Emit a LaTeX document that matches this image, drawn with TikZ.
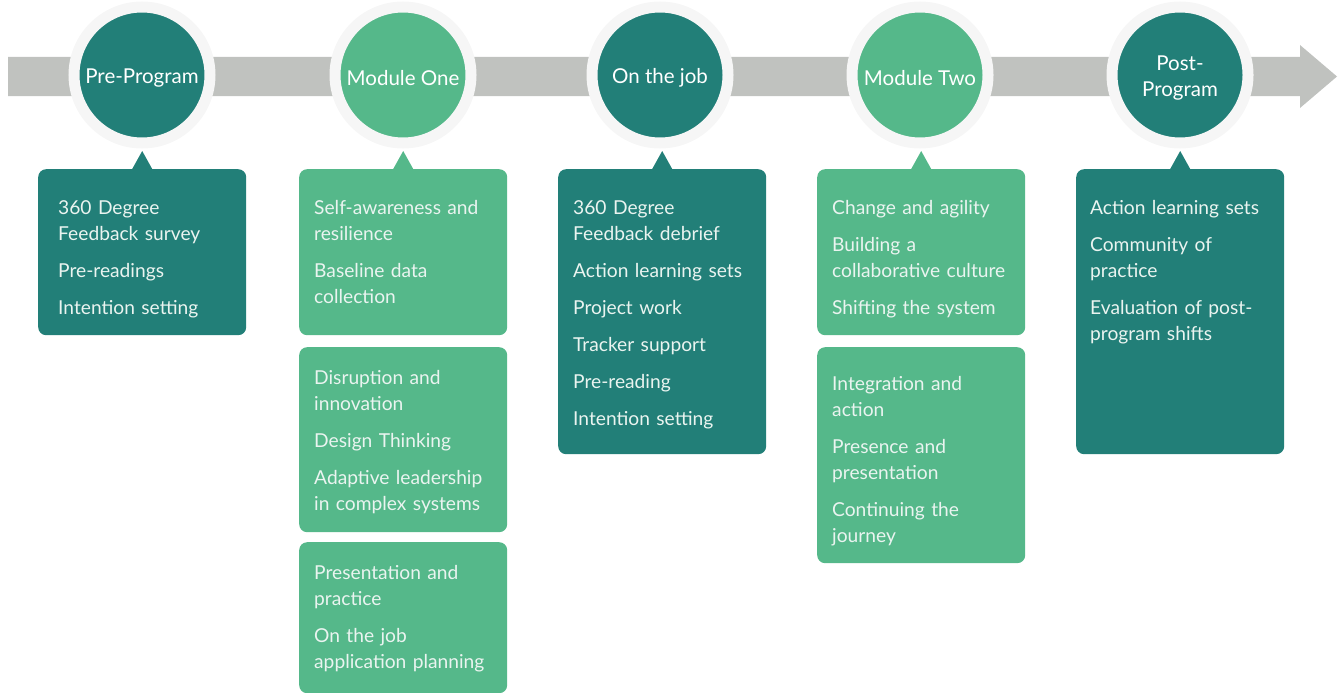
\documentclass[tikz,border=0pt]{standalone}
\usepackage{fontspec}
\setmainfont{Lato}
\usetikzlibrary{calc}
\definecolor{darkteal}{HTML}{227F78}
\definecolor{lightgreen}{HTML}{55B88A}
\definecolor{bandgray}{HTML}{C0C2BF}
\definecolor{ringgray}{HTML}{F6F6F6}
\definecolor{boxtext}{HTML}{EAF4F0}
\tikzset{
  stagecirc/.style={circle, minimum size=136pt, inner sep=0pt, draw=ringgray, line width=11pt},
  stagelabel/.style={text=white, font=\fontsize{20.5}{26}\selectfont, align=center, yshift=-3pt},
  panel/.style={rounded corners=8pt, minimum width=208pt, anchor=north west, inner sep=0pt},
  paneltext/.style={anchor=base west, inner sep=0pt, text width=205pt, align=left, text=boxtext, font=\fontsize{19.2}{26}\selectfont},
}
\newcommand{\pointer}[2]{\fill[#2] ($(#1.north)+(-10pt,0)$) -- ($(#1.north)+(0,18pt)$) -- ($(#1.north)+(10pt,0)$) -- cycle;}
\begin{document}
\begin{tikzpicture}[x=1pt,y=-1pt]
\useasboundingbox (0,0) rectangle (1338,693);
% timeline arrow
\fill[bandgray] (8,57) -- (1300,57) -- (1300,45) -- (1337,76.5) -- (1300,108) -- (1300,96) -- (8,96) -- cycle;
% stages
\node[stagecirc, fill=darkteal, label={[stagelabel]center:Pre-Program}] (s1) at (142,75) {};
\node[stagecirc, fill=lightgreen, label={[stagelabel]center:Module One}] (s2) at (403,75) {};
\node[stagecirc, fill=darkteal, label={[stagelabel]center:On the job}] (s3) at (660,75) {};
\node[stagecirc, fill=lightgreen, label={[stagelabel]center:Module Two}] (s4) at (920,75) {};
\node[stagecirc, fill=darkteal, label={[stagelabel]center:Post-\\Program}] (s5) at (1180,75) {};
% panels
\node[panel, fill=darkteal, minimum height=166pt] (b1) at (38,169) {};
\node[panel, fill=lightgreen, minimum height=166pt] (b2) at (299,169) {};
\node[panel, fill=lightgreen, minimum height=185pt] (b2b) at (299,347) {};
\node[panel, fill=lightgreen, minimum height=151pt] (b2c) at (299,542) {};
\node[panel, fill=darkteal, minimum height=285pt] (b3) at (558,169) {};
\node[panel, fill=lightgreen, minimum height=166pt] (b4) at (817,169) {};
\node[panel, fill=lightgreen, minimum height=216pt] (b4b) at (817,347) {};
\node[panel, fill=darkteal, minimum height=285pt] (b5) at (1076,169) {};
\pointer{b1}{darkteal}
\pointer{b2}{lightgreen}
\pointer{b3}{darkteal}
\pointer{b4}{lightgreen}
\pointer{b5}{darkteal}
% texts
\node[paneltext] (t1) at (58,214) {360 Degree\\Feedback survey\\[11pt]Pre-readings\\[11pt]Intention setting};
\node[paneltext] (t2) at (314,214) {Self-awareness and\\resilience\\[11pt]Baseline data\\collection};
\node[paneltext] (t2b) at (314,384) {Disruption and\\innovation\\[11pt]Design Thinking\\[11pt]Adaptive leadership\\in complex systems};
\node[paneltext] (t2c) at (314,579) {Presentation and\\practice\\[11pt]On the job\\application planning};
\node[paneltext] (t3) at (573,214) {360 Degree\\Feedback debrief\\[11pt]Action learning sets\\[11pt]Project work\\[11pt]Tracker support\\[11pt]Pre-reading\\[11pt]Intention setting};
\node[paneltext] (t4) at (832,214) {Change and agility\\[11pt]Building a\\collaborative culture\\[11pt]Shifting the system};
\node[paneltext] (t4b) at (832,390) {Integration and\\action\\[11pt]Presence and\\presentation\\[11pt]Continuing the\\journey};
\node[paneltext] (t5) at (1090,214) {Action learning sets\\[11pt]Community of\\practice\\[11pt]Evaluation of post-\\program shifts};
\end{tikzpicture}
\end{document}
